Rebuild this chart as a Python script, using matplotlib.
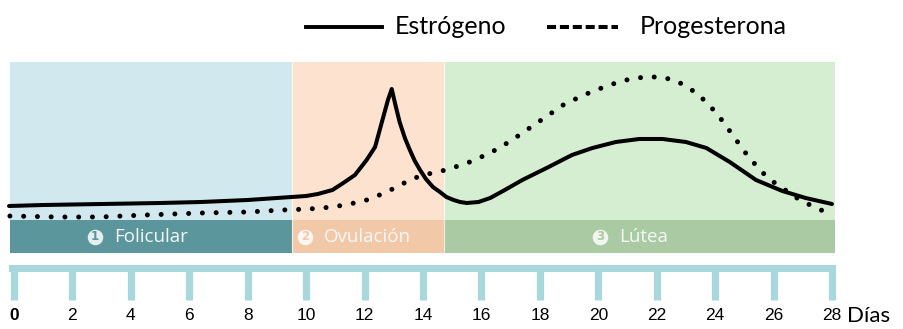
import matplotlib
matplotlib.use("Agg")
import matplotlib.pyplot as plt
from matplotlib.lines import Line2D
from matplotlib.patches import Rectangle


# hormone levels (arbitrary units) by cycle day
estrogen_days = [-0.17, 1.0, 3.0, 5.0, 6.4, 8.0, 9.5, 10.0, 10.4, 10.9, 11.27,
                 11.67, 12.07, 12.36, 12.64, 12.8, 12.93, 13.04, 13.2, 13.38,
                 13.55, 13.72, 13.9, 14.1, 14.34, 14.58, 14.8, 15.05, 15.27,
                 15.5, 15.9, 16.3, 16.8, 17.4, 18.3, 19.1, 19.8, 20.6, 21.4,
                 22.2, 23.0, 23.7, 24.5, 25.4, 26.3, 27.1, 28.0]
estrogen = [14, 15, 16, 17, 18, 20, 23, 24, 26, 30, 37, 45, 60, 73, 103, 120,
            131, 117, 98, 82, 70, 59, 50, 41, 33, 28, 23, 20, 18, 17, 18, 22,
            30, 40, 53, 65, 72, 78, 81, 81, 78, 72, 58, 40, 29, 22, 16]

progesterone_days = [-0.14, 1.5, 2.94, 4.5, 6.4, 8.0, 9.2, 10.1, 10.9, 11.5,
                     12.07, 12.6, 13.1, 13.55, 14.0, 14.5, 14.9, 15.6, 16.3,
                     17.0, 17.6, 18.2, 18.8, 19.5, 20.2, 20.7, 21.1, 21.6,
                     22.1, 22.6, 23.0, 23.4, 23.76, 24.1, 24.4, 24.7, 24.96,
                     25.3, 25.6, 26.0, 26.4, 26.8, 27.25, 27.7]
progesterone = [4, 3, 3, 5, 7, 8, 10, 11, 13, 16, 20, 26, 33, 40, 45, 48, 51,
                58, 67, 79, 91, 103, 115, 125, 133, 138, 141, 143, 143, 140,
                134, 126, 116, 105, 93, 81, 70, 58, 48, 38, 30, 22, 15, 9]

phases = ["Folicular", "Ovulación", "Lútea"]
phase_numbers = ["1", "2", "3"]
phase_bounds = [-0.15, 9.5, 14.72, 28.1]
phase_bg = ["#d1e9ee", "#fce2cf", "#d5eed1"]
phase_band = ["#5b969d", "#f2c9a8", "#aacaa4"]

day_ticks = list(range(0, 29, 2))
RULER = "#a9d8dc"


def px(x, y):
    # figure fraction from reference pixel position
    return x / 904, 1 - y / 329


def hormone_chart():
    fig = plt.figure(figsize=(9.04, 3.29), dpi=100)
    ax = fig.add_axes([0, 0, 1, 1])
    ax.set_xlim(-0.479, 30.465)
    ax.set_ylim(-109, 220)
    ax.axis("off")

    # phase backgrounds and labelled band
    for i, name in enumerate(phases):
        x0, x1 = phase_bounds[i], phase_bounds[i + 1]
        ax.add_patch(Rectangle((x0, 0), x1 - x0, 158, fc=phase_bg[i], ec="none", zorder=0))
        ax.add_patch(Rectangle((x0, -33), x1 - x0, 33, fc=phase_band[i], ec="none", zorder=0))
        if i > 0:
            ax.plot([x0, x0], [-33, 158], color="white", lw=0.8, alpha=0.7, zorder=0.5)

    label_x = [2.78, 9.96, 20.06]
    for i, name in enumerate(phases):
        ax.scatter(label_x[i], -16.5, s=125, color="white", alpha=0.85, zorder=2, lw=0)
        ax.text(label_x[i], -16.3, phase_numbers[i], color=phase_band[i], fontsize=8.5,
                fontweight="bold", ha="center", va="center", zorder=3)
        ax.text(label_x[i] + 0.65, -16.5, name, color="#f4f7f6", fontsize=13.5,
                family="Open Sans", ha="left", va="center", zorder=3)

    # hormone curves
    ax.plot(estrogen_days, estrogen, color="black", lw=2.9,
            solid_capstyle="round", solid_joinstyle="round", zorder=4)
    ax.plot(progesterone_days, progesterone, color="black", lw=3.6,
            linestyle=(0, (0.001, 2.75)), dash_capstyle="round", zorder=4)

    # ruler with day ticks
    ax.add_patch(Rectangle((-0.17, -52), 28.3, 7, fc=RULER, ec="none"))
    ax.vlines(day_ticks, -80, -50, color=RULER, lw=5.2)
    for d in day_ticks:
        ax.text(d, -96, str(d), fontsize=12.5, family="Liberation Sans",
                ha="center", va="center", color="black",
                fontweight="bold" if d == 0 else "normal")
    ax.text(28.5, -96, "Días", fontsize=16, family="Lato", ha="left", va="center")

    # legend drawn by hand
    x0, y0 = px(306, 27)
    x1, _ = px(382, 27)
    fig.add_artist(Line2D([x0, x1], [y0, y0], color="black", lw=2.8,
                          transform=fig.transFigure))
    fig.text(*px(395, 26), "Estrógeno", fontsize=18, family="Lato",
             ha="left", va="center")
    x0, _ = px(547, 27)
    x1, _ = px(618, 27)
    fig.add_artist(Line2D([x0, x1], [y0, y0], color="black", lw=2.9,
                          linestyle=(0, (2.25, 0.95)), transform=fig.transFigure))
    fig.text(*px(640, 26), "Progesterona", fontsize=18, family="Lato",
             ha="left", va="center")

    fig.savefig("out.png", dpi=100)


def main():
    hormone_chart()


if __name__ == '__main__':
    main()
